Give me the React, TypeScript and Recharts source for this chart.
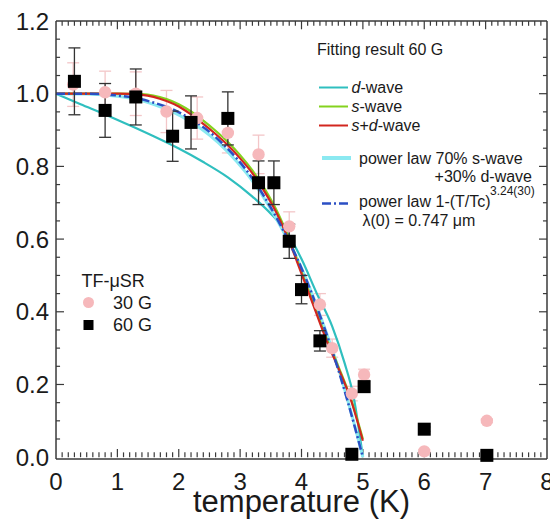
import React from 'react';
import { ComposedChart, Line, Scatter, XAxis, YAxis, ErrorBar, ReferenceLine, Customized } from 'recharts';

// ---------- ticks ----------
const xMajorTicks = [0, 1, 2, 3, 4, 5, 6, 7, 8];
const yMajorTicks = [0, 0.2, 0.4, 0.6, 0.8, 1.0, 1.2];
const xMinorStep = 0.1;
const yMinorStep = 0.05;
const xAllTicks = Array.from({ length: 81 }, (_, i) => Math.round(i * xMinorStep * 100) / 100);
const yAllTicks = Array.from({ length: 25 }, (_, i) => Math.round(i * yMinorStep * 100) / 100);
const X_DOMAIN: [number, number] = [0, 8];
const Y_DOMAIN: [number, number] = [0, 1.2];

// ---------- TF-muSR data, 60 G (black squares) ----------
const t60 = [0.3, 0.8, 1.3, 1.9, 2.2, 2.8, 3.3, 3.55, 3.8, 4.0, 4.3, 4.82, 5.02, 6.0, 7.02];
const rho60 = [1.034, 0.954, 0.991, 0.883, 0.921, 0.932, 0.755, 0.755, 0.594, 0.461, 0.32, 0.008, 0.194, 0.077, 0.005];
const err60 = [0.092, 0.074, 0.077, 0.069, 0.073, 0.073, 0.06, 0.06, 0.047, 0.039, 0.028, 0.004, 0.015, 0.006, 0.01];

// ---------- TF-muSR data, 30 G (pink circles) ----------
const t30 = [0.28, 0.8, 1.3, 1.8, 2.3, 2.8, 3.3, 3.8, 4.3, 4.5, 4.82, 5.02, 6.0, 7.02];
const rho30 = [1.025, 1.004, 1.0, 0.951, 0.933, 0.892, 0.833, 0.635, 0.42, 0.3, 0.175, 0.227, 0.016, 0.1];
const err30 = [0.06, 0.058, 0.06, 0.058, 0.058, 0.055, 0.053, 0.04, 0.03, 0.025, 0.02, 0.015, 0.005, 0.005];

// ---------- fit curves ----------
const dWaveT = [0, 0.4, 0.8, 1.2, 1.6, 2.0, 2.4, 2.8, 3.2, 3.5, 3.8, 4.0, 4.25, 4.5, 4.7, 4.85, 5.0];
const dWaveV = [1.0, 0.971, 0.943, 0.913, 0.882, 0.849, 0.812, 0.77, 0.717, 0.67, 0.608, 0.545, 0.45, 0.36, 0.26, 0.165, 0.0];

const bcsT = [0, 0.5, 1.0, 1.4, 1.8, 2.0, 2.2, 2.4, 2.6, 2.8, 3.0, 3.2, 3.4, 3.6, 3.8, 4.0, 4.2, 4.4, 4.6, 4.8, 5.0];
const sWaveV = [1.0, 1.0, 1.0, 0.999, 0.985, 0.971, 0.951, 0.926, 0.898, 0.867, 0.831, 0.789, 0.738, 0.677, 0.6, 0.51, 0.42, 0.33, 0.25, 0.163, 0.05];
const sdWaveV = [1.0, 1.0, 1.0, 0.997, 0.98, 0.965, 0.943, 0.917, 0.889, 0.858, 0.822, 0.781, 0.73, 0.67, 0.594, 0.505, 0.415, 0.325, 0.245, 0.16, 0.045];

const powT = [0, 0.5, 1.0, 1.3, 1.6, 1.9, 2.2, 2.5, 2.8, 3.1, 3.4, 3.7, 4.0, 4.3, 4.6, 4.8, 5.0];
const powMixV = [1.0, 0.999, 0.993, 0.985, 0.97, 0.95, 0.922, 0.886, 0.84, 0.782, 0.71, 0.622, 0.52, 0.392, 0.245, 0.128, 0.0];
const powFitV = [1.0, 1.0, 0.995, 0.988, 0.975, 0.957, 0.93, 0.895, 0.848, 0.79, 0.715, 0.625, 0.52, 0.39, 0.24, 0.125, 0.0];

const zipCurve = (ts: number[], vs: number[]) => ts.map((T, i) => ({ T, v: vs[i] }));
const zipPts = (ts: number[], vs: number[], es: number[]) => ts.map((T, i) => ({ T, v: vs[i], e: es[i] }));

const data60 = zipPts(t60, rho60, err60);
const data30 = zipPts(t30, rho30, err30);

// ---------- styles ----------
const FONT = '"Liberation Sans", Arial, Helvetica, sans-serif';
const TXT = '#1a1a1a';
const AXIS = '#3a3a3a';
const C_D = '#2fbfbf';
const C_S = '#84d21e';
const C_SD = '#d2261f';
const C_MIX = '#8be9f1';
const C_POW = '#2b4fc4';
const C_PINK = '#f6b8bb';
const C_PINK_ERR = '#f3c6c8';
const DASH = '9 3 2 3';
const TH = 0.01;

// tick lengths, in axis units (x ticks: fraction of y span; y ticks: temperature units)
const XT_MAJ = 0.019;
const XT_MIN = 0.011;
const YT_MAJ = 0.13;
const YT_MIN = 0.066;

const isMajor = (v: number, majors: number[]) => majors.some((m) => Math.abs(m - v) < 1e-6);

const BottomLabel = (p: any) => (
  <text x={p.x} y={p.y + 14} dy="0.71em" textAnchor="middle" fontSize={24} fill={TXT} fontFamily={FONT}>
    {String(p.payload.value)}
  </text>
);
const LeftLabel = (p: any) => (
  <text x={p.x - 7} y={p.y} dy="0.355em" textAnchor="end" fontSize={24} fill={TXT} fontFamily={FONT}>
    {Number(p.payload.value).toFixed(1)}
  </text>
);

const Square = (p: any) => (
  <rect x={p.cx - 6.5} y={p.cy - 6.5} width={13} height={13} fill="#000" />
);
const Dot = (p: any) => <circle cx={p.cx} cy={p.cy} r={6.2} fill={C_PINK} />;

function Annotations() {
  const fs = 16;
  return (
    <g fontFamily={FONT} fill={TXT}>
      <text x={309} y={47} fontSize={fs}>Fitting result 60 G</text>

      <line x1={311} y1={79.5} x2={340} y2={79.5} stroke={C_D} strokeWidth={2} />
      <text x={343.5} y={85} fontSize={fs}><tspan fontStyle="italic">d</tspan>-wave</text>

      <line x1={311} y1={98.5} x2={340} y2={98.5} stroke={C_S} strokeWidth={2} />
      <text x={343.5} y={104} fontSize={fs}><tspan fontStyle="italic">s</tspan>-wave</text>

      <line x1={311} y1={117.5} x2={340} y2={117.5} stroke={C_SD} strokeWidth={2} />
      <text x={343.5} y={123} fontSize={fs}><tspan fontStyle="italic">s</tspan>+<tspan fontStyle="italic">d</tspan>-wave</text>

      <line x1={314} y1={150} x2={343} y2={150} stroke={C_MIX} strokeWidth={4} />
      <text x={351} y={155.5} fontSize={fs}>power law 70% s-wave</text>
      <text x={524} y={174} fontSize={fs} textAnchor="end">+30% d-wave</text>

      <line x1={314} y1={195.5} x2={343} y2={195.5} stroke={C_POW} strokeWidth={2.5} strokeDasharray={DASH} />
      <text x={351} y={199} fontSize={fs}>power law 1-(T/Tc)</text>
      <text x={482} y={187} fontSize={12}>3.24(30)</text>
      <text x={354.5} y={217.5} fontSize={fs}>λ(0) = 0.747 μm</text>

      <text x={73.5} y={279} fontSize={18}>TF-μSR</text>
      <circle cx={80.5} cy={294.5} r={5.5} fill={C_PINK} />
      <text x={105} y={300.5} fontSize={18}>30 G</text>
      <rect x={75.5} y={312} width={10} height={10} fill="#000" />
      <text x={105} y={323} fontSize={18}>60 G</text>
    </g>
  );
}

const ax = { xAxisId: 'x', yAxisId: 'y', stroke: AXIS, strokeWidth: 1.2, ifOverflow: 'visible' as const };

export default function App() {
  return (
    <ComposedChart
      width={550}
      height={513}
      margin={{ top: 13, right: 11, bottom: 62, left: 48 }}
      style={{ fontFamily: FONT }}
    >
      <XAxis
        xAxisId="x"
        dataKey="T"
        type="number"
        domain={X_DOMAIN}
        ticks={xMajorTicks}
        interval={0}
        height={TH}
        tickLine={false}
        tickSize={0}
        tickMargin={0}
        axisLine={{ stroke: AXIS, strokeWidth: 1.5 }}
        tick={BottomLabel}
        label={{ value: 'temperature (K)', position: 'bottom', offset: 31, fontSize: 31, fill: TXT, fontFamily: FONT }}
      />
      <YAxis
        yAxisId="y"
        dataKey="v"
        type="number"
        domain={Y_DOMAIN}
        ticks={yMajorTicks}
        interval={0}
        width={TH}
        tickLine={false}
        tickSize={0}
        tickMargin={0}
        axisLine={{ stroke: AXIS, strokeWidth: 1.5 }}
        tick={LeftLabel}
      />

      {/* inward tick marks on all four sides */}
      {xAllTicks.filter((t) => t > 0 && t < 8).map((t) => {
        const len = (isMajor(t, xMajorTicks) ? XT_MAJ : XT_MIN) * (Y_DOMAIN[1] - Y_DOMAIN[0]);
        return (
          <React.Fragment key={'xt' + t}>
            <ReferenceLine {...ax} segment={[{ x: t, y: Y_DOMAIN[0] }, { x: t, y: Y_DOMAIN[0] + len }]} />
            <ReferenceLine {...ax} segment={[{ x: t, y: Y_DOMAIN[1] }, { x: t, y: Y_DOMAIN[1] - len }]} />
          </React.Fragment>
        );
      })}
      {yAllTicks.filter((t) => t > 0 && t < 1.2).map((t) => {
        const len = isMajor(t, yMajorTicks) ? YT_MAJ : YT_MIN;
        return (
          <React.Fragment key={'yt' + t}>
            <ReferenceLine {...ax} segment={[{ x: X_DOMAIN[0], y: t }, { x: X_DOMAIN[0] + len, y: t }]} />
            <ReferenceLine {...ax} segment={[{ x: X_DOMAIN[1], y: t }, { x: X_DOMAIN[1] - len, y: t }]} />
          </React.Fragment>
        );
      })}

      {/* 30 G data (behind curves) */}
      <Scatter xAxisId="x" yAxisId="y" data={data30} dataKey="v" shape={Dot} isAnimationActive={false}>
        <ErrorBar dataKey="e" direction="y" width={6} stroke={C_PINK_ERR} strokeWidth={1.3} isAnimationActive={false} />
      </Scatter>

      {/* fits */}
      <Line xAxisId="x" yAxisId="y" data={zipCurve(dWaveT, dWaveV)} dataKey="v" type="monotone" stroke={C_D} strokeWidth={2.2} dot={false} activeDot={false} isAnimationActive={false} />
      <Line xAxisId="x" yAxisId="y" data={zipCurve(powT, powMixV)} dataKey="v" type="monotone" stroke={C_MIX} strokeWidth={3} dot={false} activeDot={false} isAnimationActive={false} />
      <Line xAxisId="x" yAxisId="y" data={zipCurve(bcsT, sWaveV)} dataKey="v" type="monotone" stroke={C_S} strokeWidth={2.2} dot={false} activeDot={false} isAnimationActive={false} />
      <Line xAxisId="x" yAxisId="y" data={zipCurve(bcsT, sdWaveV)} dataKey="v" type="monotone" stroke={C_SD} strokeWidth={2.2} dot={false} activeDot={false} isAnimationActive={false} />
      <Line xAxisId="x" yAxisId="y" data={zipCurve(powT, powFitV)} dataKey="v" type="monotone" stroke={C_POW} strokeWidth={2.5} strokeDasharray={DASH} dot={false} activeDot={false} isAnimationActive={false} />

      {/* frame: top and right edges */}
      <ReferenceLine {...ax} strokeWidth={1.5} x={X_DOMAIN[1]} />
      <ReferenceLine {...ax} strokeWidth={1.5} y={Y_DOMAIN[1]} />

      {/* 60 G data (on top) */}
      <Scatter xAxisId="x" yAxisId="y" data={data60} dataKey="v" shape={Square} isAnimationActive={false}>
        <ErrorBar dataKey="e" direction="y" width={6} stroke="#333" strokeWidth={1.3} isAnimationActive={false} />
      </Scatter>

      <Customized component={Annotations} />
    </ComposedChart>
  );
}
